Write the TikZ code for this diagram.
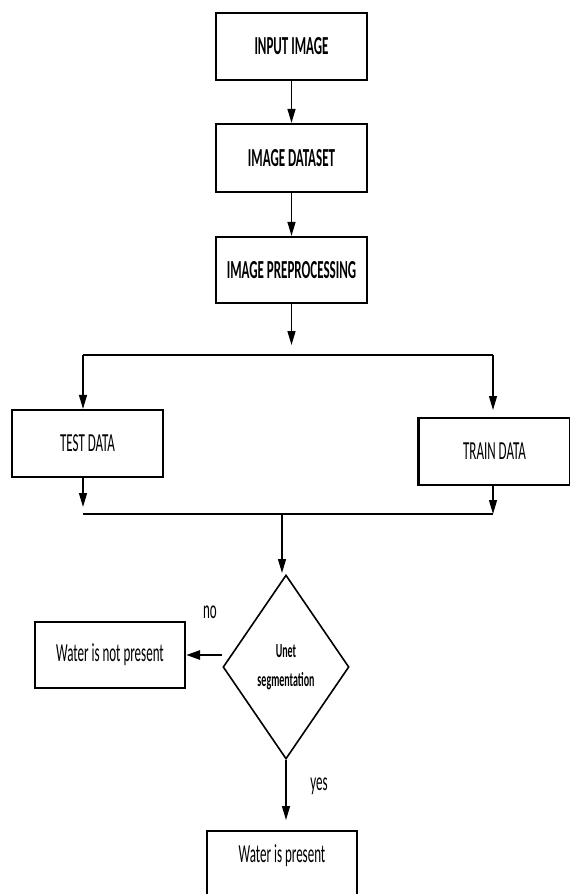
\documentclass[tikz,border=0pt]{standalone}
\usepackage{fontspec}
\setmainfont{Carlito}[FakeStretch=0.5]
\usetikzlibrary{shapes.geometric,arrows.meta}
\begin{document}
\begin{tikzpicture}[x=1pt,y=-1pt,
  box/.style={draw, line width=2.2pt, inner sep=0pt, font=\fontsize{26}{30}\selectfont},
  hdr/.style={box, font=\fontsize{26}{30}\selectfont\bfseries},
  arr/.style={line width=1.3pt, -{Triangle[length=14pt,width=8pt]}},
  barline/.style={line width=2.6pt},
  lbl/.style={inner sep=0pt, font=\fontsize{26}{30}\selectfont}]
\useasboundingbox (0,0) rectangle (570,894);
\clip (0,0) rectangle (570,894);
% top chain
\node[hdr, minimum width=151pt, minimum height=67pt] (input) at (291.5,46.5) {INPUT IMAGE};
\node[hdr, minimum width=151pt, minimum height=68pt] (dataset) at (291.5,158) {IMAGE DATASET};
\node[hdr, minimum width=151pt, minimum height=66pt] (preproc) at (291.5,270) {IMAGE PREPROCESSING};
\draw[arr] (input) -- (dataset);
\draw[arr] (dataset) -- (preproc);
\coordinate (tipA) at (291.5,345);
\draw[arr] (preproc) -- (tipA);
% split
\coordinate (L1) at (83,355);
\coordinate (R1) at (493,355);
\draw[barline] (L1) -- (R1);
\node[box, minimum width=151pt, minimum height=67pt] (test) at (87.5,443.5) {TEST DATA};
\node[box, minimum width=152pt, minimum height=67pt] (train) at (494.5,451.5) {TRAIN DATA};
\coordinate (tipR) at (493,410);
\draw[arr] (L1) -- (test.north -| L1);
\draw[arr] (R1) -- (tipR);
% merge
\coordinate (L2) at (83,514);
\coordinate (R2) at (493,514);
\coordinate (M2) at (282,514);
\coordinate (tipL2) at (83,507);
\draw[barline] (L2) -- (R2);
\draw[arr] (test.south -| L2) -- (tipL2);
\draw[arr] (train.south -| R2) -- (R2);
% decision
\node[draw, diamond, line width=1.6pt, inner sep=0pt, minimum width=126pt, minimum height=184pt,
      align=center, font=\fontsize{20}{29}\selectfont\bfseries] (dia) at (286,667) {Unet\\segmentation};
\coordinate (tipD) at (282,573);
\draw[arr] (M2) -- (tipD);
\node[box, minimum width=150pt, minimum height=66pt] (notp) at (110,655) {Water is not present};
\draw[line width=2.6pt, -{Triangle[length=14pt,width=9pt]}] (dia.west |- notp.east) -- (notp.east);
\node[lbl] (no) at (210,612) {no};
\node[box, minimum width=150pt, minimum height=120pt] (pres) at (282,891) {};
\node[lbl] (prestxt) at (282,856) {Water is present};
\coordinate (tipY) at (286,820);
\draw[arr] (dia.south) -- (tipY);
\node[lbl] (yes) at (319,786) {yes};
\end{tikzpicture}
\end{document}
